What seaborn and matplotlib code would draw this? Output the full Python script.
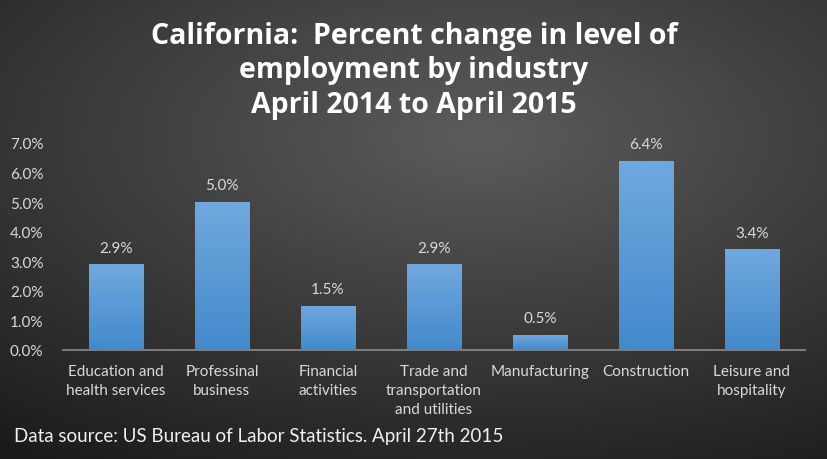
import numpy as np
import pandas as pd
import matplotlib
matplotlib.use("Agg")
import matplotlib.pyplot as plt
import seaborn as sns

# Data
industries = ["Education and\nhealth services", "Professinal\nbusiness", "Financial\nactivities",
              "Trade and\ntransportation\nand utilities", "Manufacturing", "Construction",
              "Leisure and\nhospitality"]
pct_change = [0.029, 0.050, 0.015, 0.029, 0.005, 0.064, 0.034]
y_ticks = [0.0, 0.01, 0.02, 0.03, 0.04, 0.05, 0.06, 0.07]

df = pd.DataFrame({"industry": industries, "change": pct_change})

sns.set_style("white")
plt.rcParams["font.family"] = ["Lato", "DejaVu Sans"]

fig = plt.figure(figsize=(8.28, 4.6), dpi=100)

# radial gradient background
bg = fig.add_axes([0, 0, 1, 1], zorder=-10)
xx, yy = np.meshgrid(np.linspace(0, 1, 400), np.linspace(0, 1, 250))
r = np.sqrt(((xx - 0.58) / 0.9) ** 2 + ((yy - 0.3) / 0.8) ** 2)
shade = np.clip(0.36 - 0.24 * r, 0.1, 0.36)
bg.imshow(np.dstack([shade] * 3), extent=[0, 1, 0, 1], aspect="auto", origin="upper")
bg.axis("off")

ax = fig.add_axes([0.076, 0.237, 0.896, 0.45])
ax.patch.set_alpha(0)
sns.barplot(data=df, x="industry", y="change", color="#5b9bd5", width=0.51, ax=ax)

# vertical gradient on each bar
grad = np.linspace(0, 1, 100).reshape(-1, 1)
top_c = np.array([0.44, 0.66, 0.87])
bot_c = np.array([0.26, 0.54, 0.80])
grad_img = top_c * (1 - grad[..., None]) + bot_c * grad[..., None]
for p in ax.patches:
    x0, y0 = p.get_x(), p.get_y()
    w, h = p.get_width(), p.get_height()
    im = ax.imshow(grad_img, extent=[x0, x0 + w, y0, y0 + h], aspect="auto", origin="upper", zorder=3)
    im.set_clip_path(p)
    p.set_edgecolor("#6ea6dc")
    p.set_linewidth(0.6)
    ax.annotate(f"{h * 100:.1f}%", (x0 + w / 2, h), xytext=(0, 7), textcoords="offset points",
                ha="center", va="bottom", color="#d9d9d9", fontsize=11)

ax.set_xlim(-0.5, 6.5)
ax.set_ylim(0, 0.07)
ax.set_yticks(y_ticks)
ax.set_yticklabels([f"{t * 100:.1f}%" for t in y_ticks], color="#d9d9d9", fontsize=11)
ax.set_xticks(range(len(industries)))
ax.set_xticklabels(industries, color="#d9d9d9", fontsize=11, linespacing=1.45)
ax.tick_params(axis="both", length=0, pad=10)
ax.tick_params(axis="y", pad=14)
ax.set_xlabel("")
ax.set_ylabel("")
for s in ["top", "right", "left"]:
    ax.spines[s].set_visible(False)
ax.spines["bottom"].set_color("#8c8c8c")
ax.spines["bottom"].set_linewidth(1.2)

fig.text(0.5, 0.952, "California:  Percent change in level of\nemployment by industry\nApril 2014 to April 2015",
         ha="center", va="top", color="white", fontsize=20.5, fontweight="bold",
         family=["Open Sans", "DejaVu Sans"], linespacing=1.24)
fig.text(0.017, 0.05, "Data source: US Bureau of Labor Statistics. April 27th 2015",
         ha="left", va="center", color="#f0f0f0", fontsize=13.5)

fig.savefig("out.png", dpi=100)
